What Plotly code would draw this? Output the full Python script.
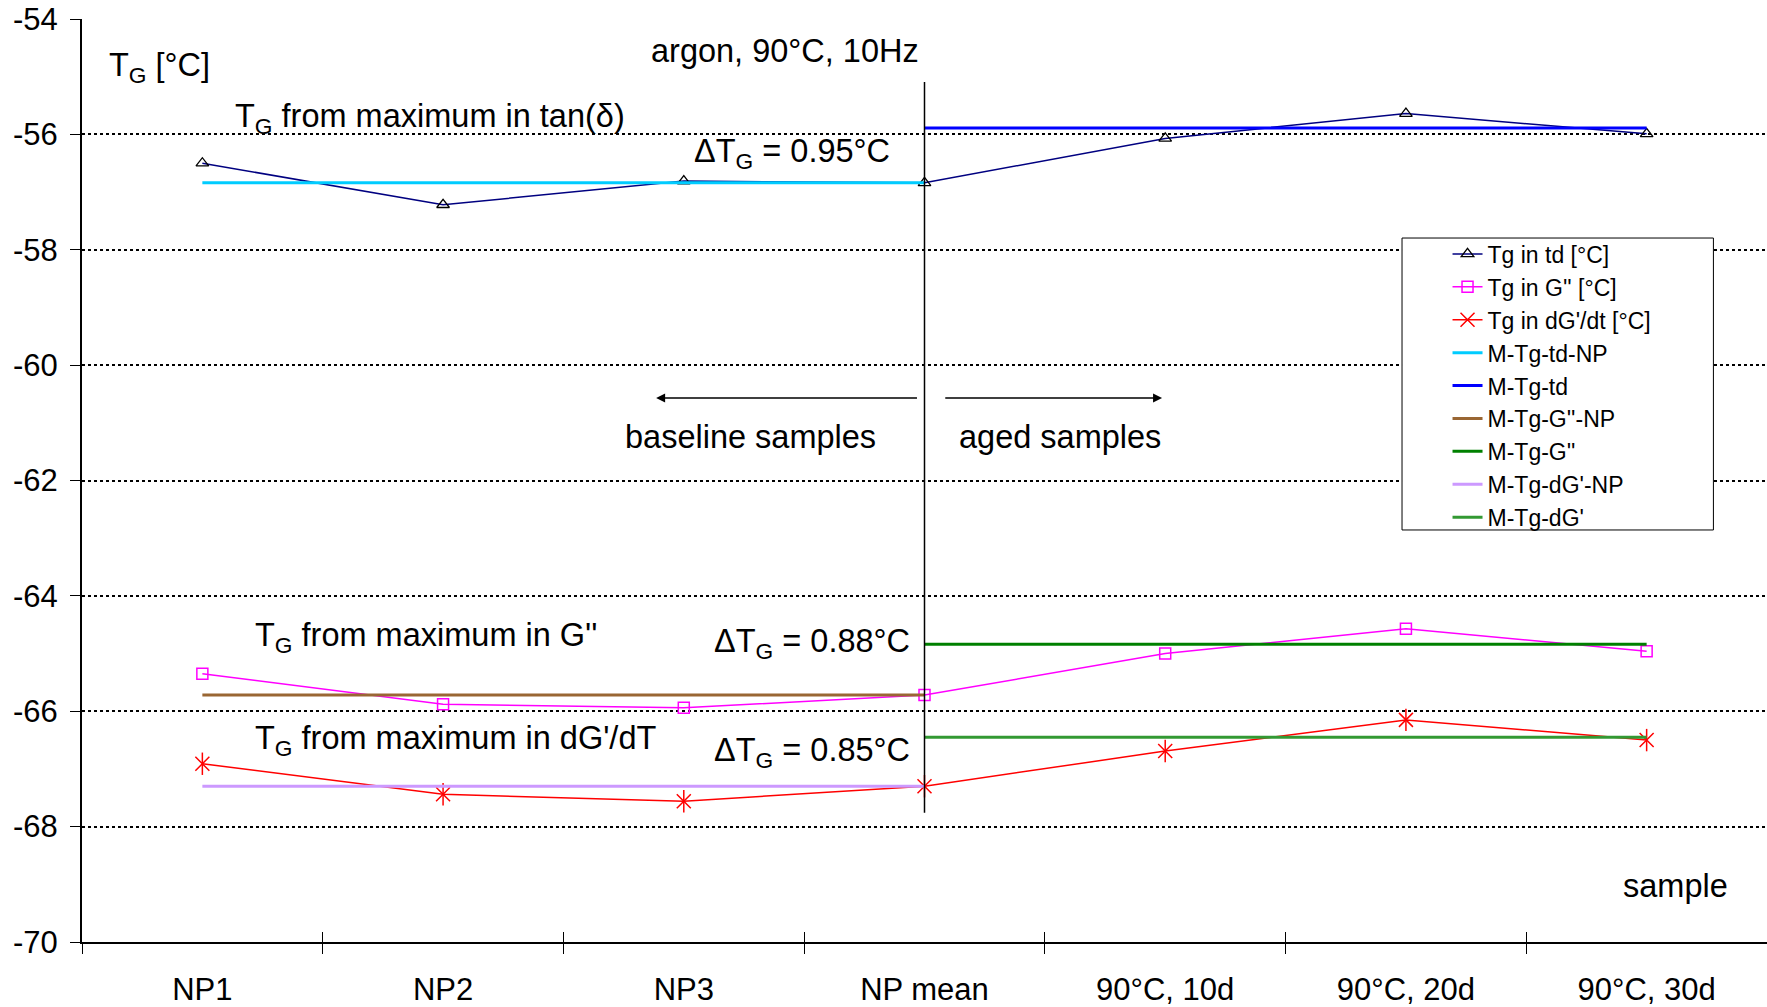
import plotly.graph_objects as go

# ---- data -------------------------------------------------------------
samples = ["NP1", "NP2", "NP3", "NP mean", "90°C, 10d", "90°C, 20d", "90°C, 30d"]

tg_td = [-56.50, -57.22, -56.81, -56.84, -56.07, -55.64, -55.99]
tg_g2 = [-65.35, -65.88, -65.94, -65.72, -65.00, -64.57, -64.96]
tg_dg = [-66.91, -67.44, -67.56, -67.30, -66.69, -66.15, -66.50]

np_samples = samples[:4]
aged_samples = samples[3:]
m_td_np = [-56.84, -56.84, -56.84, -56.84]
m_td = [-55.89, -55.89, -55.89, -55.89]
m_g2_np = [-65.72, -65.72, -65.72, -65.72]
m_g2 = [-64.84, -64.84, -64.84, -64.84]
m_dg_np = [-67.30, -67.30, -67.30, -67.30]
m_dg = [-66.45, -66.45, -66.45, -66.45]

y_ticks = [-54, -56, -58, -60, -62, -64, -66, -68, -70]
y_tick_text = ["-54", "-56", "-58", "-60", "-62", "-64", "-66", "-68", "-70"]

FONT = "Liberation Sans, Arial, sans-serif"
TICK = 31
TXT = 32.5

fig = go.Figure()

# measured glass transition temperatures
fig.add_trace(go.Scatter(
    x=samples, y=tg_td, name="Tg in td [°C]", mode="lines+markers",
    line=dict(color="#000080", width=1.5),
    marker=dict(symbol="triangle-up-open", size=11, color="black",
                line=dict(color="black", width=1.3)),
))
fig.add_trace(go.Scatter(
    x=samples, y=tg_g2, name="Tg in G'' [°C]", mode="lines+markers",
    line=dict(color="#FF00FF", width=1.5),
    marker=dict(symbol="square-open", size=11, color="#FF00FF",
                line=dict(color="#FF00FF", width=1.5)),
))
fig.add_trace(go.Scatter(
    x=samples, y=tg_dg, name="Tg in dG'/dt [°C]", mode="lines+markers",
    legendgroup="dg",
    line=dict(color="#FF0000", width=1.5),
    marker=dict(symbol="x-thin-open", size=14, color="#FF0000",
                line=dict(color="#FF0000", width=1.5)),
))
# vertical stroke completes the six-armed star marker
fig.add_trace(go.Scatter(
    x=samples, y=tg_dg, mode="markers", legendgroup="dg", showlegend=False,
    hoverinfo="skip",
    marker=dict(symbol="line-ns-open", size=16, color="#FF0000",
                line=dict(color="#FF0000", width=1.5)),
))

# group means
means = [
    ("M-Tg-td-NP", np_samples, m_td_np, "#00CCFF"),
    ("M-Tg-td", aged_samples, m_td, "#0000FF"),
    ("M-Tg-G''-NP", np_samples, m_g2_np, "#996633"),
    ("M-Tg-G''", aged_samples, m_g2, "#008000"),
    ("M-Tg-dG'-NP", np_samples, m_dg_np, "#CC99FF"),
    ("M-Tg-dG'", aged_samples, m_dg, "#339933"),
]
for name, xs, ys, col in means:
    fig.add_trace(go.Scatter(x=xs, y=ys, name=name, mode="lines",
                             line=dict(color=col, width=3)))

# helper trace for the inner half of the category tick marks
fig.add_trace(go.Scatter(x=samples, y=[None] * len(samples), xaxis="x2",
                         showlegend=False, hoverinfo="skip", mode="lines"))

annotations = []


def label(text, x, y, size=TXT, anchor="left"):
    annotations.append(dict(text=text, x=x, y=y, xref="x", yref="y",
                            xanchor=anchor, yanchor="middle", showarrow=False,
                            font=dict(family=FONT, size=size, color="black")))


label("T<sub>G</sub> [°C]", -0.395, -54.84)
label("argon, 90°C, 10Hz", 1.855, -54.55)
label("T<sub>G</sub> from maximum in tan(δ)", 0.128, -55.72)
label("ΔT<sub>G</sub> = 0.95°C", 2.035, -56.33)
label("T<sub>G</sub> from maximum in G''", 0.212, -64.72)
label("ΔT<sub>G</sub> = 0.88°C", 2.118, -64.82)
label("T<sub>G</sub> from maximum in dG'/dT", 0.212, -66.51)
label("ΔT<sub>G</sub> = 0.85°C", 2.118, -66.71)
label("baseline samples", 1.748, -61.25)
label("aged samples", 3.135, -61.25)
label("sample", 5.895, -69.03)

# direction arrows
for tail, head in [(2.975, 1.885), (3.08, 3.987)]:
    annotations.append(dict(x=head, y=-60.57, ax=tail, ay=-60.57,
                            xref="x", yref="y", axref="x", ayref="y",
                            text="", showarrow=True, arrowhead=2,
                            arrowsize=1.2, arrowwidth=1.5, arrowcolor="black"))

shapes = [
    # separator between baseline and aged samples
    dict(type="line", xref="x", yref="y", x0=3, x1=3, y0=-55.09, y1=-67.76,
         line=dict(color="black", width=1.5)),
    # legend frame
    dict(type="rect", xref="paper", yref="paper",
         x0=0.7834, x1=0.9682, y0=0.4464, y1=0.7627,
         fillcolor="white", line=dict(color="black", width=1), layer="above"),
]

fig.update_layout(
    width=1767, height=1007,
    margin=dict(l=82, r=0, t=19, b=65),
    paper_bgcolor="white", plot_bgcolor="white",
    font=dict(family=FONT, size=TICK, color="black"),
    showlegend=True,
    legend=dict(x=0.8104, y=0.7687, xanchor="left", yanchor="top",
                bgcolor="rgba(0,0,0,0)", borderwidth=0,
                font=dict(family=FONT, size=23, color="black"),
                tracegroupgap=0),
    xaxis=dict(type="category", categoryorder="array", categoryarray=samples,
               range=[-0.5, 6.5], showgrid=False, zeroline=False,
               showline=True, linecolor="black", linewidth=2,
               ticks="outside", ticklen=10, tickwidth=1, tickcolor="black",
               tickson="boundaries", ticklabelstandoff=19,
               tickfont=dict(family=FONT, size=TICK)),
    xaxis2=dict(type="category", categoryorder="array", categoryarray=samples,
                range=[-0.5, 6.5], overlaying="x", side="bottom",
                anchor="y", showgrid=False, zeroline=False, showline=False,
                ticks="inside", ticklen=10, tickwidth=1, tickcolor="black",
                tickson="boundaries", showticklabels=False),
    yaxis=dict(range=[-70, -54], tickmode="array", tickvals=y_ticks,
               ticktext=y_tick_text, showgrid=True, gridcolor="black",
               gridwidth=2, griddash="dot", zeroline=False,
               showline=True, linecolor="black", linewidth=2,
               ticks="outside", ticklen=10, tickwidth=1, tickcolor="black",
               ticklabelstandoff=6, tickfont=dict(family=FONT, size=TICK)),
    annotations=annotations,
    shapes=shapes,
)

fig.write_html("out.html")
